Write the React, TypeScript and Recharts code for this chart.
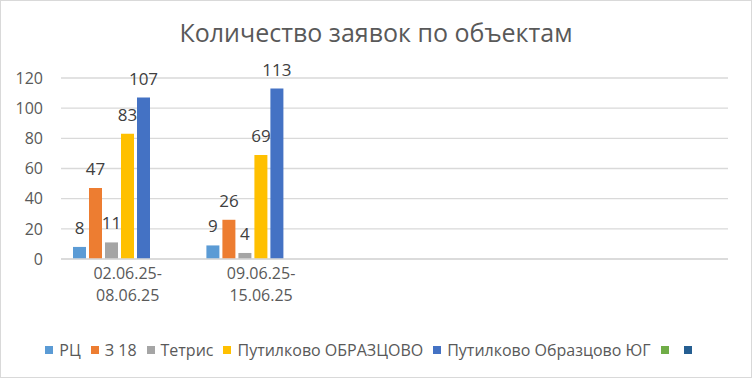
import { BarChart, Bar, XAxis, YAxis, CartesianGrid, LabelList } from 'recharts'

const categories = ['02.06.25-08.06.25', '09.06.25-15.06.25', '', '', '']
const rc = [8, 9, null, null, null]
const z18 = [47, 26, null, null, null]
const tetris = [11, 4, null, null, null]
const putObr = [83, 69, null, null, null]
const putYug = [107, 113, null, null, null]
const empty1 = [null, null, null, null, null]
const empty2 = [null, null, null, null, null]
const yTicks = [0, 20, 40, 60, 80, 100, 120]

const series = [
  { key: 'rc', name: 'РЦ', color: '#5B9BD5', values: rc },
  { key: 'z18', name: 'З 18', color: '#ED7D31', values: z18 },
  { key: 'tetris', name: 'Тетрис', color: '#A5A5A5', values: tetris },
  { key: 'putObr', name: 'Путилково ОБРАЗЦОВО', color: '#FFC000', values: putObr },
  { key: 'putYug', name: 'Путилково Образцово ЮГ', color: '#4472C4', values: putYug },
  { key: 'empty1', name: '', color: '#70AD47', values: empty1 },
  { key: 'empty2', name: '', color: '#255E91', values: empty2 },
]

const data = categories.map((cat, i) => {
  const row: Record<string, string | number | null> = { cat }
  series.forEach((s) => {
    row[s.key] = s.values[i]
  })
  return row
})

const font = '"Open Sans", sans-serif'

function CatTick(props: any) {
  const { x, y, payload } = props
  const label: string = payload.value || ''
  if (!label) return null
  const idx = label.indexOf('-')
  const l1 = label.slice(0, idx + 1)
  const l2 = label.slice(idx + 1)
  return (
    <text x={x} y={y} textAnchor="middle" fill="#595959" fontSize={16} fontFamily={font}>
      <tspan x={x} dy={12}>{l1}</tspan>
      <tspan x={x} dy={22}>{l2}</tspan>
    </text>
  )
}

export default function App() {
  return (
    <div
      style={{
        position: 'absolute',
        left: 0,
        top: 0,
        width: 752,
        height: 379,
        background: '#fff',
        fontFamily: font,
      }}
    >
      <div
        style={{
          position: 'absolute',
          left: 0,
          top: 0,
          width: 750,
          height: 376,
          border: '1px solid #d9d9d9',
        }}
      />
      <div
        style={{
          position: 'absolute',
          left: 0,
          width: 752,
          top: 16,
          textAlign: 'center',
          fontSize: 25,
          color: '#595959',
          lineHeight: '32px',
        }}
      >
        Количество заявок по объектам
      </div>
      <BarChart
        width={752}
        height={379}
        data={data}
        margin={{ top: 78, right: 24, bottom: 60, left: 0 }}
        barSize={13}
        barGap={3}
      >
        <CartesianGrid vertical={false} stroke="#d9d9d9" strokeWidth={1.3} />
        <XAxis
          dataKey="cat"
          axisLine={{ stroke: '#d9d9d9', strokeWidth: 1.3 }}
          tickLine={false}
          tick={<CatTick />}
          interval={0}
          height={60}
        />
        <YAxis
          domain={[0, 120]}
          ticks={yTicks}
          axisLine={false}
          tickLine={false}
          width={61}
          tickMargin={12}
          tick={{ fill: '#595959', fontSize: 16, fontFamily: font }}
        />
        {series.map((s) => (
          <Bar key={s.key} dataKey={s.key} name={s.name} fill={s.color} isAnimationActive={false}>
            <LabelList
              dataKey={s.key}
              position="top"
              offset={13}
              fill="#404040"
              fontSize={17}
              fontFamily={font}
            />
          </Bar>
        ))}
      </BarChart>
      <div
        style={{
          position: 'absolute',
          left: 0,
          width: 752,
          top: 339,
          display: 'flex',
          justifyContent: 'center',
          alignItems: 'center',
          fontSize: 16,
          color: '#595959',
          lineHeight: '22px',
        }}
      >
        {series.map((s) => (
          <div key={s.key} style={{ display: 'flex', alignItems: 'center', marginRight: s.name ? 10 : 15 }}>
            <span
              style={{
                width: 8,
                height: 8,
                background: s.color,
                marginRight: s.name ? 6 : 0,
                display: 'inline-block',
              }}
            />
            {s.name ? <span>{s.name}</span> : null}
          </div>
        ))}
      </div>
    </div>
  )
}
